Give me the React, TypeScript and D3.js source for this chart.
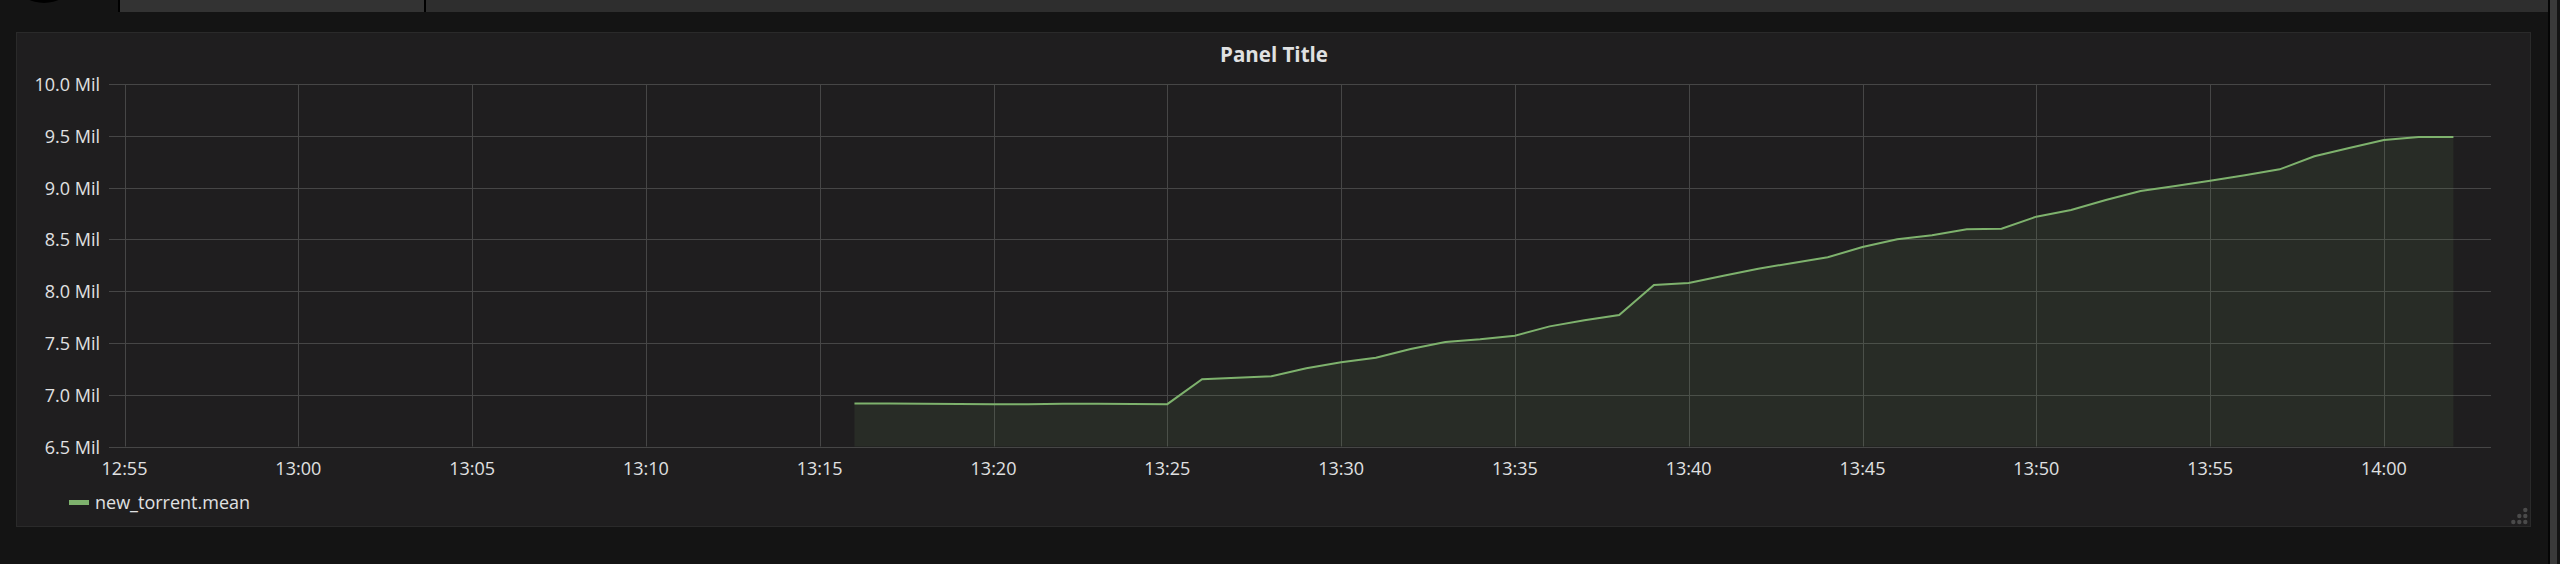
import React from "react";
import * as d3 from "d3";

const times: string[] = [
  "13:16", "13:17", "13:18", "13:19", "13:20", "13:21", "13:22", "13:23", "13:24", "13:25",
  "13:26", "13:27", "13:28", "13:29", "13:30", "13:31", "13:32", "13:33", "13:34", "13:35",
  "13:36", "13:37", "13:38", "13:39", "13:40", "13:41", "13:42", "13:43", "13:44", "13:45",
  "13:46", "13:47", "13:48", "13:49", "13:50", "13:51", "13:52", "13:53", "13:54", "13:55",
  "13:56", "13:57", "13:58", "13:59", "14:00", "14:01", "14:02",
];
const values: number[] = [
  6.915, 6.915, 6.912, 6.910, 6.909, 6.909, 6.912, 6.912, 6.910, 6.909,
  7.149, 7.164, 7.178, 7.255, 7.313, 7.357, 7.441, 7.509, 7.535, 7.570,
  7.660, 7.718, 7.770, 8.060, 8.079, 8.149, 8.217, 8.272, 8.327, 8.426,
  8.500, 8.539, 8.597, 8.603, 8.719, 8.783, 8.880, 8.967, 9.015, 9.066,
  9.118, 9.176, 9.302, 9.382, 9.460, 9.488, 9.488,
];
const yTicks: number[] = [6.5, 7.0, 7.5, 8.0, 8.5, 9.0, 9.5, 10.0];
const xTickLabels: string[] = [
  "12:55", "13:00", "13:05", "13:10", "13:15", "13:20", "13:25",
  "13:30", "13:35", "13:40", "13:45", "13:50", "13:55", "14:00",
];
const seriesName = "new_torrent.mean";
const title = "Panel Title";

const parseT = d3.timeParse("%H:%M");

export default function App() {
  const W = 2560;
  const H = 564;
  const plotL = 109;
  const plotR = 2491;
  const plotT = 84;
  const plotB = 446.5;

  const x = d3
    .scaleTime()
    .domain([parseT("12:55") as Date, parseT("14:00") as Date])
    .range([124.5, 2383.9]);
  const y = d3.scaleLinear().domain([6.5, 10.0]).range([plotB, plotT]);

  const data = times.map((t, i) => ({ t: parseT(t) as Date, v: values[i] }));
  const line = d3
    .line<{ t: Date; v: number }>()
    .x((d) => x(d.t))
    .y((d) => y(d.v));
  const area = d3
    .area<{ t: Date; v: number }>()
    .x((d) => x(d.t))
    .y0(plotB)
    .y1((d) => y(d.v));

  const font = "'Open Sans', 'Noto Sans', sans-serif";
  const txt = "#e0e1e2";
  const grid = "#464646";

  const dots = [
    [2525.3, 510],
    [2519.3, 516],
    [2525.3, 516],
    [2513.3, 522],
    [2519.3, 522],
    [2525.3, 522],
  ];

  return (
    <svg
      width={W}
      height={H}
      style={{ position: "absolute", left: 0, top: 0, display: "block" }}
    >
      <rect x={0} y={0} width={W} height={H} fill="#141414" />
      {/* top strip */}
      <ellipse cx={44} cy={-12} rx={24} ry={15} fill="#000" />
      <rect x={119} y={0} width={305} height={12} fill="#333333" />
      <rect x={118} y={0} width={2} height={12} fill="#000" />
      <rect x={424} y={0} width={2} height={12} fill="#000" />
      <rect x={426} y={0} width={2122} height={12} fill="#2e2e2e" />
      {/* right scrollbar */}
      <rect x={2548} y={0} width={2} height={H} fill="#050505" />
      <rect x={2550} y={0} width={7} height={H} fill="#3a3a3a" />
      {/* panel */}
      <rect
        x={16.5}
        y={32.5}
        width={2514}
        height={494}
        fill="#1f1e1f"
        stroke="#2a2a2a"
        strokeWidth={1}
      />
      <text
        x={1274}
        y={54}
        fill={txt}
        fontFamily={font}
        fontWeight={700}
        fontSize={20.5}
        textAnchor="middle"
        dominantBaseline="central"
      >
        {title}
      </text>
      {/* horizontal grid */}
      {yTicks.map((v) => (
        <line
          key={"h" + v}
          x1={plotL}
          x2={plotR}
          y1={Math.round(y(v)) + 0.5}
          y2={Math.round(y(v)) + 0.5}
          stroke={grid}
          strokeWidth={1}
        />
      ))}
      {/* vertical grid */}
      {xTickLabels.map((l) => {
        const xx = Math.round(x(parseT(l) as Date)) + 0.5;
        return (
          <line
            key={"v" + l}
            x1={xx}
            x2={xx}
            y1={plotT}
            y2={plotB}
            stroke={grid}
            strokeWidth={1}
          />
        );
      })}
      {/* area + line */}
      <path d={area(data) || ""} fill="rgba(126,178,109,0.1)" />
      <path d={line(data) || ""} fill="none" stroke="#7eb26d" strokeWidth={2} />
      {/* y labels */}
      {yTicks.map((v) => (
        <text
          key={"yl" + v}
          x={100}
          y={y(v)}
          fill={txt}
          fontFamily={font}
          fontSize={18}
          textAnchor="end"
          dominantBaseline="central"
        >
          {v.toFixed(1) + " Mil"}
        </text>
      ))}
      {/* x labels */}
      {xTickLabels.map((l) => (
        <text
          key={"xl" + l}
          x={x(parseT(l) as Date)}
          y={468}
          fill={txt}
          fontFamily={font}
          fontSize={18}
          textAnchor="middle"
          dominantBaseline="central"
        >
          {l}
        </text>
      ))}
      {/* legend */}
      <rect x={69} y={500} width={20} height={5} fill="#7eb26d" />
      <text
        x={95}
        y={502}
        fill={txt}
        fontFamily={font}
        fontSize={18}
        dominantBaseline="central"
      >
        {seriesName}
      </text>
      {dots.map(([cx, cy], i) => (
        <circle key={"d" + i} cx={cx} cy={cy} r={2.2} fill="#4a4a4a" />
      ))}
    </svg>
  );
}
